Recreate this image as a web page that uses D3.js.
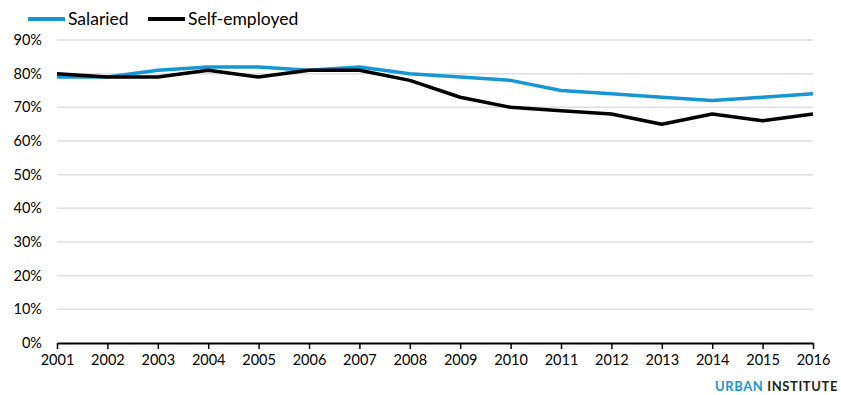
<!DOCTYPE html>
<html>
<head>
<meta charset="utf-8">
<script src="https://cdn.jsdelivr.net/npm/d3@7"></script>
<style>
  html, body { margin: 0; padding: 0; background: #fff; }
  svg { display: block; font-family: Lato, "Open Sans", sans-serif; }
</style>
</head>
<body>
<svg id="chart" width="841" height="395"></svg>
<script>
// Share of workers, by employment type
const years = [2001, 2002, 2003, 2004, 2005, 2006, 2007, 2008, 2009, 2010, 2011, 2012, 2013, 2014, 2015, 2016];
const salaried = [79, 79, 81, 82, 82, 81, 82, 80, 79, 78, 75, 74, 73, 72, 73, 74];
const selfEmployed = [80, 79, 79, 81, 79, 81, 81, 78, 73, 70, 69, 68, 65, 68, 66, 68];
const yTicks = [0, 10, 20, 30, 40, 50, 60, 70, 80, 90];
const seriesNames = ["Salaried", "Self-employed"];
const seriesColors = ["#1696d2", "#000000"];

const svg = d3.select("#chart");
const margin = { left: 57, right: 28, top: 40, bottom: 52 };
const W = 841, H = 395;

const x = d3.scaleLinear().domain([2001, 2016]).range([margin.left, W - margin.right]);
const y = d3.scaleLinear().domain([0, 90]).range([H - margin.bottom, margin.top]);

// gridlines
svg.append("g").selectAll("line")
  .data(yTicks.filter(d => d > 0))
  .join("line")
  .attr("x1", x(2001)).attr("x2", x(2016))
  .attr("y1", d => y(d)).attr("y2", d => y(d))
  .attr("stroke", "#dedede").attr("stroke-width", 1.5);

// y-axis labels
svg.append("g").selectAll("text")
  .data(yTicks)
  .join("text")
  .attr("x", 42).attr("y", d => y(d))
  .attr("dy", "0.35em")
  .attr("text-anchor", "end")
  .attr("font-size", 14.5)
  .attr("fill", "#000")
  .text(d => d + "%");

// x axis
const xAxis = d3.axisBottom(x)
  .tickValues(years)
  .tickFormat(d3.format("d"))
  .tickSize(6)
  .tickSizeOuter(0)
  .tickPadding(6);
const gx = svg.append("g")
  .attr("transform", `translate(0,${y(0)})`)
  .call(xAxis);
gx.select(".domain").attr("stroke", "#000").attr("stroke-width", 2);
gx.selectAll(".tick line").attr("stroke", "#000").attr("stroke-width", 1.5);
gx.selectAll(".tick text")
  .attr("font-family", "Lato, 'Open Sans', sans-serif")
  .attr("font-size", 14.5)
  .attr("fill", "#000");

// lines
const line = d3.line().x((d, i) => x(years[i])).y(d => y(d));
[salaried, selfEmployed].forEach((vals, k) => {
  svg.append("path")
    .datum(vals)
    .attr("d", line)
    .attr("fill", "none")
    .attr("stroke", seriesColors[k])
    .attr("stroke-width", 3.5)
    .attr("stroke-linejoin", "round");
});

// legend
const legendX = [28, 148];
seriesNames.forEach((name, k) => {
  const g = svg.append("g").attr("transform", `translate(${legendX[k]},19)`);
  g.append("line")
    .attr("x1", 0).attr("x2", 37)
    .attr("y1", 0).attr("y2", 0)
    .attr("stroke", seriesColors[k]).attr("stroke-width", 4);
  g.append("text")
    .attr("x", 40).attr("y", 0).attr("dy", "0.35em")
    .attr("font-size", 17.5).attr("fill", "#000")
    .text(name);
});

// source mark
const brand = svg.append("text")
  .attr("x", 838).attr("y", 391)
  .attr("text-anchor", "end")
  .attr("font-size", 13)
  .attr("font-weight", "bold")
  .attr("letter-spacing", 0.6);
brand.append("tspan").attr("fill", "#1696d2").text("URBAN ");
brand.append("tspan").attr("fill", "#231f20").text("INSTITUTE");
</script>
</body>
</html>
